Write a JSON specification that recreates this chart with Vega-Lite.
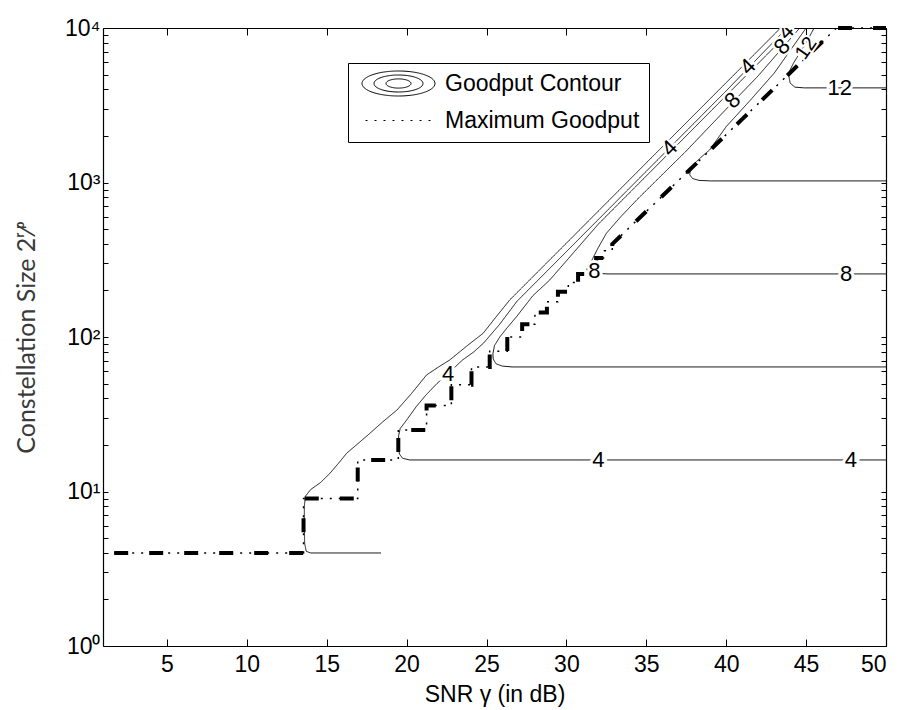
{
  "$schema": "https://vega.github.io/schema/vega-lite/v6.json",
  "width": 783,
  "height": 618,
  "autosize": {"type": "none"},
  "padding": {"left": 103, "top": 28, "right": 15, "bottom": 64},
  "background": "white",
  "config": {
    "view": {"stroke": null},
    "axis": {"grid": false, "domainColor": "black", "domainWidth": 1.2, "tickColor": "black", "tickWidth": 1, "labelColor": "black", "labelFont": "Liberation Sans", "labelFontSize": 23, "titleFont": "Liberation Sans", "titleFontSize": 23, "titleFontWeight": "normal", "titleColor": "black"},
    "line": {"color": "black"},
    "text": {"font": "Liberation Sans", "fontSize": 22, "color": "black"}
  },
  "datasets": {
    "contours": [
      {"c": "c2", "x": 18.4, "y": 4}, {"c": "c2", "x": 14.0, "y": 4}, {"c": "c2", "x": 13.72, "y": 4.1}, {"c": "c2", "x": 13.62, "y": 4.6}, {"c": "c2", "x": 13.6, "y": 6}, {"c": "c2", "x": 13.6, "y": 8}, {"c": "c2", "x": 13.66, "y": 9.3}, {"c": "c2", "x": 14.0, "y": 10.3}, {"c": "c2", "x": 14.6, "y": 11.4}, {"c": "c2", "x": 15.2, "y": 13.1}, {"c": "c2", "x": 15.8, "y": 15.5}, {"c": "c2", "x": 16.25, "y": 17.7}, {"c": "c2", "x": 17.0, "y": 20.6}, {"c": "c2", "x": 17.7, "y": 23.8}, {"c": "c2", "x": 18.5, "y": 28.2}, {"c": "c2", "x": 19.4, "y": 33.7}, {"c": "c2", "x": 20.3, "y": 43}, {"c": "c2", "x": 21.25, "y": 56.8}, {"c": "c2", "x": 22.0, "y": 64}, {"c": "c2", "x": 22.7, "y": 71}, {"c": "c2", "x": 23.8, "y": 88}, {"c": "c2", "x": 24.79, "y": 105.7}, {"c": "c2", "x": 25.6, "y": 135}, {"c": "c2", "x": 26.46, "y": 174}, {"c": "c2", "x": 30, "y": 405}, {"c": "c2", "x": 35, "y": 1340}, {"c": "c2", "x": 40, "y": 4430}, {"c": "c2", "x": 43.4, "y": 10000},
      {"c": "c4", "x": 50, "y": 16}, {"c": "c4", "x": 20.2, "y": 16}, {"c": "c4", "x": 19.75, "y": 16.4}, {"c": "c4", "x": 19.55, "y": 17.5}, {"c": "c4", "x": 19.5, "y": 19.5}, {"c": "c4", "x": 19.5, "y": 23}, {"c": "c4", "x": 19.6, "y": 25.6}, {"c": "c4", "x": 20.0, "y": 29}, {"c": "c4", "x": 20.6, "y": 35.4}, {"c": "c4", "x": 21.2, "y": 42}, {"c": "c4", "x": 21.9, "y": 50}, {"c": "c4", "x": 22.6, "y": 58}, {"c": "c4", "x": 23.5, "y": 71}, {"c": "c4", "x": 24.2, "y": 80}, {"c": "c4", "x": 24.8, "y": 91}, {"c": "c4", "x": 25.8, "y": 120}, {"c": "c4", "x": 26.9, "y": 170}, {"c": "c4", "x": 30, "y": 357}, {"c": "c4", "x": 35, "y": 1183}, {"c": "c4", "x": 40, "y": 3920}, {"c": "c4", "x": 43.8, "y": 10000},
      {"c": "c6", "x": 50, "y": 64}, {"c": "c6", "x": 26.6, "y": 64}, {"c": "c6", "x": 26.0, "y": 64.8}, {"c": "c6", "x": 25.6, "y": 67}, {"c": "c6", "x": 25.42, "y": 72}, {"c": "c6", "x": 25.4, "y": 78}, {"c": "c6", "x": 25.5, "y": 88}, {"c": "c6", "x": 25.83, "y": 100}, {"c": "c6", "x": 26.3, "y": 115}, {"c": "c6", "x": 26.87, "y": 135}, {"c": "c6", "x": 27.9, "y": 185}, {"c": "c6", "x": 28.96, "y": 234}, {"c": "c6", "x": 32, "y": 538}, {"c": "c6", "x": 36, "y": 1400}, {"c": "c6", "x": 40, "y": 3650}, {"c": "c6", "x": 44.2, "y": 10000},
      {"c": "c8", "x": 50, "y": 256}, {"c": "c8", "x": 32.6, "y": 256}, {"c": "c8", "x": 32.0, "y": 258}, {"c": "c8", "x": 31.7, "y": 264}, {"c": "c8", "x": 31.56, "y": 280}, {"c": "c8", "x": 31.6, "y": 315}, {"c": "c8", "x": 32.0, "y": 380}, {"c": "c8", "x": 32.5, "y": 469}, {"c": "c8", "x": 33.4, "y": 600}, {"c": "c8", "x": 34.4, "y": 771}, {"c": "c8", "x": 35.5, "y": 1000}, {"c": "c8", "x": 37.5, "y": 1600}, {"c": "c8", "x": 40.4, "y": 3300}, {"c": "c8", "x": 42.0, "y": 4900}, {"c": "c8", "x": 43.5, "y": 7400}, {"c": "c8", "x": 44.6, "y": 10000},
      {"c": "c10", "x": 50, "y": 1024}, {"c": "c10", "x": 39.0, "y": 1024}, {"c": "c10", "x": 38.3, "y": 1032}, {"c": "c10", "x": 37.9, "y": 1060}, {"c": "c10", "x": 37.72, "y": 1120}, {"c": "c10", "x": 37.75, "y": 1210}, {"c": "c10", "x": 38.0, "y": 1320}, {"c": "c10", "x": 38.4, "y": 1450}, {"c": "c10", "x": 38.96, "y": 1624}, {"c": "c10", "x": 40.0, "y": 2300}, {"c": "c10", "x": 41.5, "y": 3400}, {"c": "c10", "x": 43.0, "y": 5100}, {"c": "c10", "x": 45.0, "y": 10000},
      {"c": "c12", "x": 50, "y": 4096}, {"c": "c12", "x": 44.9, "y": 4096}, {"c": "c12", "x": 44.3, "y": 4140}, {"c": "c12", "x": 44.0, "y": 4400}, {"c": "c12", "x": 43.92, "y": 4900}, {"c": "c12", "x": 43.96, "y": 5250}, {"c": "c12", "x": 44.2, "y": 5900}, {"c": "c12", "x": 44.6, "y": 6900}, {"c": "c12", "x": 45.0, "y": 8000}, {"c": "c12", "x": 45.5, "y": 10000}
    ],
    "maxgoodput": [
      {"x": 1.7, "y": 4}, {"x": 13.55, "y": 4}, {"x": 13.55, "y": 9}, {"x": 16.94, "y": 9}, {"x": 16.94, "y": 16}, {"x": 19.48, "y": 16}, {"x": 19.48, "y": 25}, {"x": 21.25, "y": 25}, {"x": 21.25, "y": 36}, {"x": 22.8, "y": 36}, {"x": 22.8, "y": 49}, {"x": 24.06, "y": 49}, {"x": 24.06, "y": 64}, {"x": 25.2, "y": 64}, {"x": 25.2, "y": 81}, {"x": 26.3, "y": 81}, {"x": 26.3, "y": 100}, {"x": 27.23, "y": 100}, {"x": 27.23, "y": 121}, {"x": 28.03, "y": 121}, {"x": 28.03, "y": 144}, {"x": 28.78, "y": 144}, {"x": 28.78, "y": 169}, {"x": 29.47, "y": 169}, {"x": 29.47, "y": 196}, {"x": 30.12, "y": 196}, {"x": 30.12, "y": 225}, {"x": 30.73, "y": 225}, {"x": 30.73, "y": 256}, {"x": 31.31, "y": 256}, {"x": 31.31, "y": 289}, {"x": 31.86, "y": 289}, {"x": 31.86, "y": 324}, {"x": 32.38, "y": 324}, {"x": 32.38, "y": 361}, {"x": 32.87, "y": 361}, {"x": 32.87, "y": 400}, {"x": 35, "y": 650}, {"x": 38, "y": 1290}, {"x": 41, "y": 2570}, {"x": 44, "y": 5130}, {"x": 46.9, "y": 10000}, {"x": 50, "y": 10000}
    ],
    "labels_up": [
      {"x": 32.0, "y": 16, "t": "4"}, {"x": 47.8, "y": 16, "t": "4"}, {"x": 47.5, "y": 256, "t": "8"}, {"x": 47.1, "y": 4096, "t": "12"}, {"x": 31.75, "y": 268, "t": "8"}, {"x": 22.6, "y": 58, "t": "4"}
    ],
    "labels_rot": [
      {"x": 36.46, "y": 1664, "t": "4"}, {"x": 41.35, "y": 5620, "t": "4"}, {"x": 43.75, "y": 9460, "t": "4"}, {"x": 40.4, "y": 3400, "t": "8"}, {"x": 43.5, "y": 7560, "t": "8"}
    ],
    "labels_rot2": [
      {"x": 45.0, "y": 7400, "t": "12"}
    ]
  },
  "resolve": {"axis": {"x": "independent", "y": "independent"}},
  "layer": [
    {
      "data": {"name": "contours"},
      "mark": {"type": "line", "strokeWidth": 0.9, "color": "black"},
      "encoding": {
        "x": {"field": "x", "type": "quantitative", "scale": {"domain": [1, 50], "nice": false, "zero": false},
          "axis": {"orient": "bottom", "values": [5, 10, 15, 20, 25, 30, 35, 40, 45, 50], "tickSize": -7, "labelPadding": 14, "title": "SNR γ  (in dB)", "titlePadding": 7}},
        "y": {"field": "y", "type": "quantitative", "scale": {"type": "log", "domain": [1, 10000], "nice": false},
          "axis": {"orient": "left", "values": [1, 2, 3, 4, 5, 6, 7, 8, 9, 10, 20, 30, 40, 50, 60, 70, 80, 90, 100, 200, 300, 400, 500, 600, 700, 800, 900, 1000, 2000, 3000, 4000, 5000, 6000, 7000, 8000, 9000, 10000], "tickSize": -5, "labelPadding": 8,
            "labelExpr": "datum.value === 1 ? '10⁰' : datum.value === 10 ? '10¹' : datum.value === 100 ? '10²' : datum.value === 1000 ? '10³' : datum.value === 10000 ? '10⁴' : ''",
            "title": "Constellation Size 2ʳ⁄ᵖ", "titleFont": "Lato", "titleFontSize": 25, "titleColor": "#3a3a3a", "titlePadding": 25}},
        "detail": {"field": "c"},
        "order": {"value": null},
        "strokeDash": {"datum": "Goodput Contour", "type": "nominal",
          "scale": {"domain": ["Goodput Contour", "Maximum Goodput"], "range": [[1, 0], [2, 7]]},
          "legend": {"orient": "none", "legendX": 245, "legendY": 35, "title": null, "labelFont": "Liberation Sans", "labelFontSize": 23, "labelColor": "black", "labelLimit": 0,
            "strokeColor": "black", "fillColor": "white", "padding": 9, "rowPadding": 11, "symbolSize": 400, "symbolOffset": 30, "labelOffset": 35,
            "symbolStrokeColor": "black", "symbolStrokeWidth": 1,
            "encode": {"symbols": {"update": {
              "shape": {"signal": "datum.value === 'Goodput Contour' ? 'M-3.65,0A3.65,1.25,0,1,0,3.65,0A3.65,1.25,0,1,0,-3.65,0M-2.45,0A2.45,0.85,0,1,0,2.45,0A2.45,0.85,0,1,0,-2.45,0M-1.25,0A1.25,0.46,0,1,0,1.25,0A1.25,0.46,0,1,0,-1.25,0' : 'M-3.3,0L3.3,0'"},
              "stroke": {"value": "black"},
              "strokeWidth": {"value": 1},
              "fill": {"value": "transparent"}
            }}}}}
      }
    },
    {
      "data": {"name": "maxgoodput"},
      "mark": {"type": "line", "strokeWidth": 4, "color": "black", "strokeDash": [14, 21]},
      "encoding": {
        "x": {"field": "x", "type": "quantitative", "scale": {"domain": [1, 50], "nice": false, "zero": false},
          "axis": {"orient": "top", "values": [5, 10, 15, 20, 25, 30, 35, 40, 45, 50], "tickSize": -7, "labels": false, "title": null}},
        "y": {"field": "y", "type": "quantitative", "scale": {"type": "log", "domain": [1, 10000], "nice": false},
          "axis": {"orient": "right", "values": [1, 2, 3, 4, 5, 6, 7, 8, 9, 10, 20, 30, 40, 50, 60, 70, 80, 90, 100, 200, 300, 400, 500, 600, 700, 800, 900, 1000, 2000, 3000, 4000, 5000, 6000, 7000, 8000, 9000, 10000], "tickSize": -5, "labels": false, "title": null}},
        "order": {"value": null}
      }
    },
    {
      "data": {"name": "maxgoodput"},
      "mark": {"type": "line", "strokeWidth": 1.5, "color": "black"},
      "encoding": {
        "x": {"field": "x", "type": "quantitative", "axis": null},
        "y": {"field": "y", "type": "quantitative", "axis": null},
        "order": {"value": null},
        "strokeDash": {"datum": "Maximum Goodput", "type": "nominal"}
      }
    },
    {
      "data": {"name": "labels_up"},
      "mark": {"type": "text", "fontSize": 22, "stroke": "white", "strokeWidth": 6, "fill": "white", "align": "center", "baseline": "middle"},
      "encoding": {"x": {"field": "x", "type": "quantitative", "axis": null}, "y": {"field": "y", "type": "quantitative", "axis": null}, "text": {"field": "t"}}
    },
    {
      "data": {"name": "labels_up"},
      "mark": {"type": "text", "fontSize": 22, "fill": "black", "align": "center", "baseline": "middle"},
      "encoding": {"x": {"field": "x", "type": "quantitative", "axis": null}, "y": {"field": "y", "type": "quantitative", "axis": null}, "text": {"field": "t"}}
    },
    {
      "data": {"name": "labels_rot"},
      "mark": {"type": "text", "fontSize": 22, "angle": -45, "stroke": "white", "strokeWidth": 5, "fill": "white", "align": "center", "baseline": "middle", "clip": true},
      "encoding": {"x": {"field": "x", "type": "quantitative", "axis": null}, "y": {"field": "y", "type": "quantitative", "axis": null}, "text": {"field": "t"}}
    },
    {
      "data": {"name": "labels_rot"},
      "mark": {"type": "text", "fontSize": 22, "angle": -45, "fill": "black", "align": "center", "baseline": "middle", "clip": true},
      "encoding": {"x": {"field": "x", "type": "quantitative", "axis": null}, "y": {"field": "y", "type": "quantitative", "axis": null}, "text": {"field": "t"}}
    },
    {
      "data": {"name": "labels_rot2"},
      "mark": {"type": "text", "fontSize": 20, "angle": -55, "stroke": "white", "strokeWidth": 4, "fill": "white", "align": "center", "baseline": "middle", "clip": true},
      "encoding": {"x": {"field": "x", "type": "quantitative", "axis": null}, "y": {"field": "y", "type": "quantitative", "axis": null}, "text": {"field": "t"}}
    },
    {
      "data": {"name": "labels_rot2"},
      "mark": {"type": "text", "fontSize": 20, "angle": -55, "fill": "black", "align": "center", "baseline": "middle", "clip": true},
      "encoding": {"x": {"field": "x", "type": "quantitative", "axis": null}, "y": {"field": "y", "type": "quantitative", "axis": null}, "text": {"field": "t"}}
    }
  ]
}
